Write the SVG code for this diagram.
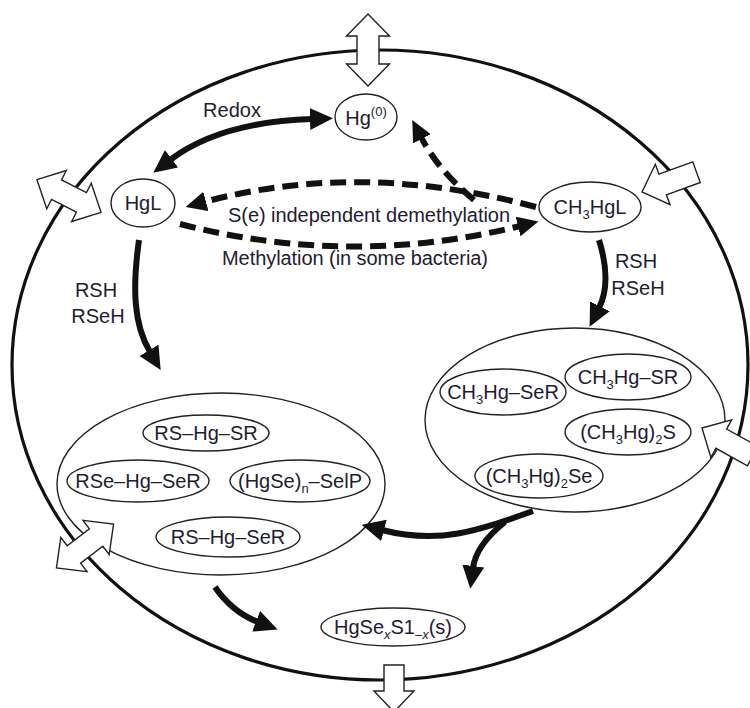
<svg xmlns="http://www.w3.org/2000/svg" width="750" height="708" viewBox="0 0 750 708">
<defs>
<style>
.t{font-family:"Liberation Sans",Arial,sans-serif;font-size:20px;fill:#1e1c33;text-anchor:middle}
.s{font-size:13px}
.node{fill:none;stroke:#222;stroke-width:1.4}
.wall{fill:none;stroke:#111;stroke-width:3.2}
.mem{fill:#fff;stroke:#222;stroke-width:1.4;stroke-linejoin:miter}
.solid{fill:none;stroke:#111;stroke-width:6}
.dash{fill:none;stroke:#111;stroke-width:6;stroke-dasharray:16 8}
</style>
<marker id="ah" markerUnits="userSpaceOnUse" markerWidth="26" markerHeight="24" refX="2" refY="11" orient="auto-start-reverse">
<path d="M0,0 L23,11 L0,22 z" fill="#111"/>
</marker>
<marker id="ahd" markerUnits="userSpaceOnUse" markerWidth="24" markerHeight="22" refX="2" refY="10" orient="auto">
<path d="M0,0 L21,10 L0,20 z" fill="#111"/>
</marker>
<polygon id="dbl" points="-36,0 -14,-21.5 -14,-11 14,-11 14,-21.5 36,0 14,21.5 14,11 -14,11 -14,21.5"/>
<polygon id="sgl" points="0,0 22,-21.5 22,-11 58,-11 58,11 22,11 22,21.5"/>
</defs>

<g id="cell">
<ellipse class="wall" cx="380" cy="365" rx="368" ry="315"/>
</g>

<g id="pool-inorganic">
<ellipse class="node" cx="221" cy="484" rx="164" ry="91"/>
<g id="rs-hg-sr"><ellipse class="node" cx="206" cy="433" rx="63" ry="18"/><text class="t" x="206" y="440">RS–Hg–SR</text></g>
<g id="rse-hg-ser"><ellipse class="node" cx="138" cy="481" rx="71" ry="21"/><text class="t" x="138" y="488">RSe–Hg–SeR</text></g>
<g id="hgse-selp"><ellipse class="node" cx="300" cy="481" rx="70" ry="21"/><text class="t" x="300" y="488">(HgSe)<tspan class="s" dy="5">n</tspan><tspan dy="-5">–SelP</tspan></text></g>
<g id="rs-hg-ser"><ellipse class="node" cx="228" cy="537" rx="72" ry="20"/><text class="t" x="228" y="544">RS–Hg–SeR</text></g>
</g>

<g id="pool-methyl">
<ellipse class="node" cx="575" cy="420" rx="150" ry="92"/>
<g id="ch3hg-ser"><ellipse class="node" cx="503" cy="392" rx="63" ry="23"/><text class="t" x="503" y="399">CH<tspan class="s" dy="5">3</tspan><tspan dy="-5">Hg–SeR</tspan></text></g>
<g id="ch3hg-sr"><ellipse class="node" cx="628" cy="377" rx="63" ry="23"/><text class="t" x="628" y="384">CH<tspan class="s" dy="5">3</tspan><tspan dy="-5">Hg–SR</tspan></text></g>
<g id="ch3hg2s"><ellipse class="node" cx="628" cy="432" rx="63" ry="23"/><text class="t" x="628" y="439">(CH<tspan class="s" dy="5">3</tspan><tspan dy="-5">Hg)</tspan><tspan class="s" dy="5">2</tspan><tspan dy="-5">S</tspan></text></g>
<g id="ch3hg2se"><ellipse class="node" cx="539" cy="476" rx="64" ry="22"/><text class="t" x="539" y="483">(CH<tspan class="s" dy="5">3</tspan><tspan dy="-5">Hg)</tspan><tspan class="s" dy="5">2</tspan><tspan dy="-5">Se</tspan></text></g>
</g>

<g id="membrane-transport">
<use href="#dbl" class="mem" transform="translate(368,50) rotate(90)"/>
<use href="#dbl" class="mem" transform="translate(69,196) rotate(27)"/>
<use href="#dbl" class="mem" transform="translate(85,546) rotate(-37.5)"/>
<use href="#sgl" class="mem" transform="translate(642,192) rotate(-20)"/>
<use href="#sgl" class="mem" transform="translate(702,428) rotate(29)"/>
<polygon class="mem" points="394,712 374,691 384,691 384,665 404,665 404,691 414,691"/>
</g>

<g id="hg0"><ellipse class="node" cx="366" cy="117" rx="31" ry="23"/><text class="t" x="366" y="125">Hg<tspan class="s" dy="-9">(0)</tspan></text></g>
<g id="hgl"><ellipse class="node" cx="143" cy="203" rx="32" ry="24"/><text class="t" x="143" y="210">HgL</text></g>
<g id="ch3hgl"><ellipse class="node" cx="590" cy="207" rx="51" ry="25"/><text class="t" x="590" y="214">CH<tspan class="s" dy="5">3</tspan><tspan dy="-5">HgL</tspan></text></g>
<g id="hgsesx"><ellipse class="node" cx="393" cy="627" rx="72" ry="19"/><text class="t" x="393" y="634">HgSe<tspan class="s" dy="5" font-style="italic">x</tspan><tspan dy="-5">S1</tspan><tspan class="s" dy="5">–<tspan font-style="italic">x</tspan></tspan><tspan dy="-5">(s)</tspan></text></g>

<g id="connectors">
<path class="solid" d="M170,160 Q220,122 312,119" marker-start="url(#ah)" marker-end="url(#ah)"/>
<path class="dash" d="M536,207 Q360,160 204,202" marker-end="url(#ahd)"/>
<path class="dash" d="M180,224 Q350,268 520,226" marker-end="url(#ahd)"/>
<path class="dash" d="M474,200 Q438,170 421,137" marker-end="url(#ahd)"/>
<path class="solid" d="M139,240 C132,290 134,325 150,352" marker-end="url(#ah)"/>
<path class="solid" d="M599,240 Q612,282 599,308" marker-end="url(#ah)"/>
<path class="solid" d="M533,511 C480,530 440,545 382,530" marker-end="url(#ah)"/>
<path class="solid" d="M505,522 Q476,545 473,568" marker-end="url(#ah)"/>
<path class="solid" d="M215,587 Q232,612 258,622" marker-end="url(#ah)"/>
</g>

<g id="labels">
<text class="t" x="232" y="117">Redox</text>
<text class="t" x="369" y="222" textLength="282">S(e) independent demethylation</text>
<text class="t" x="355" y="265" textLength="266">Methylation (in some bacteria)</text>
<text class="t" x="96" y="297">RSH</text>
<text class="t" x="98" y="323">RSeH</text>
<text class="t" x="636" y="268">RSH</text>
<text class="t" x="638" y="295">RSeH</text>
</g>
</svg>
